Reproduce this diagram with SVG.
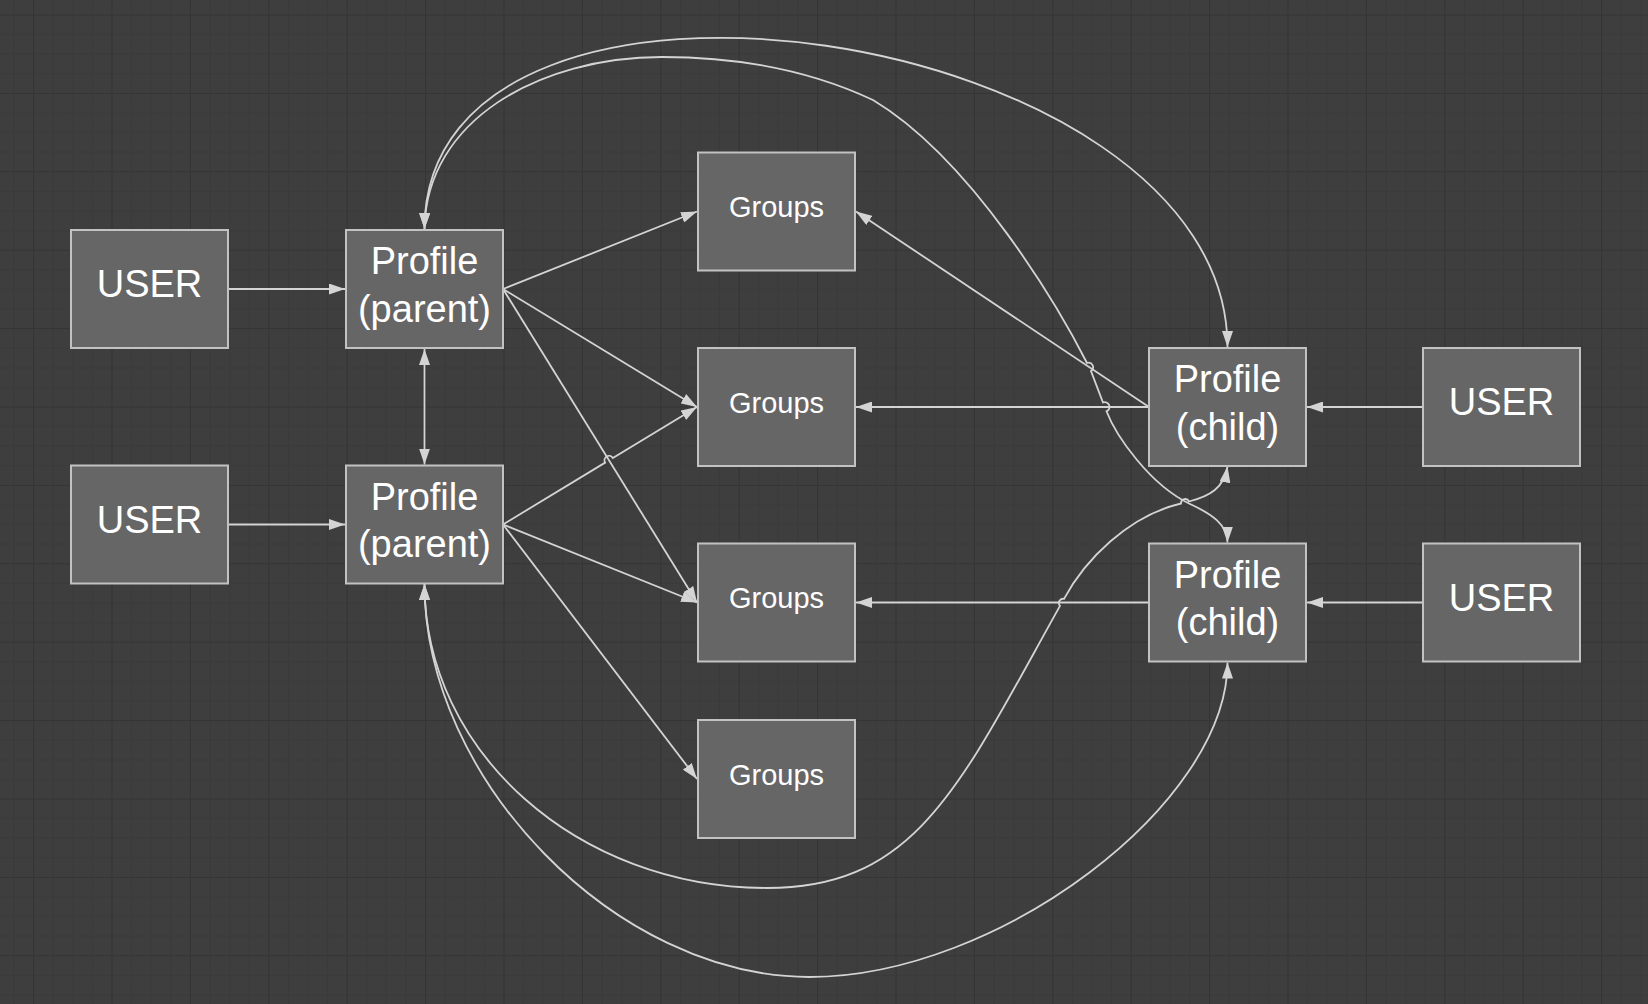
<svg xmlns="http://www.w3.org/2000/svg" width="1648" height="1004" viewBox="0 0 1648 1004">
  <defs>
    <pattern id="grid" x="33.1" y="14.5" width="78.4" height="78.4" patternUnits="userSpaceOnUse">
      <rect width="78.4" height="78.4" fill="#3e3e3e"/>
      <path d="M20.1,0V78.4M39.7,0V78.4M59.3,0V78.4M0,20.1H78.4M0,39.7H78.4M0,59.3H78.4" stroke="#393939" stroke-width="1" fill="none"/>
      <path d="M0.5,0V78.4M0,0.5H78.4" stroke="#343434" stroke-width="1" fill="none"/>
    </pattern>
    <marker id="arr" viewBox="0 0 16 11" refX="16" refY="5.5" markerWidth="16" markerHeight="11" markerUnits="userSpaceOnUse" orient="auto-start-reverse">
      <path d="M0,0 L16,5.5 L0,11 z" fill="#d4d4d4"/>
    </marker>
  </defs>
  <style>
    .node rect { fill: #666666; stroke: #c2c2c2; stroke-width: 2; }
    .lbl { font-family: "Liberation Sans", Arial, sans-serif; fill: #ffffff; text-anchor: middle; }
    .big { font-size: 38px; }
    .small { font-size: 29px; }
    #connectors path { fill: none; stroke: #d4d4d4; stroke-width: 1.8; }
    .e { marker-end: url(#arr); }
    .b { marker-start: url(#arr); marker-end: url(#arr); }
  </style>

  <rect x="0" y="0" width="1648" height="1004" fill="url(#grid)"/>

  <g id="connectors">
    <path class="e" d="M228,289 H345"/>
    <path class="e" d="M228,524.5 H345"/>
    <path class="b" d="M424.5,349 V464.5"/>
    <path class="e" d="M503,289 L697,211.5"/>
    <path class="e" d="M503,289 L697,407"/>
    <path class="e" d="M503,289 L697,602.5"/>
    <path class="e" d="M503,524.5 L605.15,462.63 A4.5,4.5 0 0,1 612.85,457.97 L697,407"/>
    <path class="e" d="M503,524.5 L697,602.5"/>
    <path class="e" d="M503,524.5 L697,779"/>
    <path class="e" d="M1149,407 L856,211.5"/>
    <path class="e" d="M1149,407 H856"/>
    <path class="e" d="M1149,602.5 H856"/>
    <path class="e" d="M1423,407 H1307"/>
    <path class="e" d="M1423,602.5 H1307"/>
    <path class="b" d="M424.5,229 C424.5,-94 1227.5,24 1227.5,347"/>
    <path class="b" d="M424.5,229 C426,120 540,57 662,57 C750,57 820,75 873,100 C973,160 1060,310 1087,363 A4.5,4.5 0 0,1 1091,371 L1103,402.5 A4.7,4.7 0 0,1 1106.5,411.3 C1116,436 1150,485 1190,504 C1212,514 1227.5,525 1227.5,542.5"/>
    <path class="b" d="M424.5,584 C424.5,752 578,888 767,888 C917,888 960,785 1060,605.9 A4.2,4.2 0 0,1 1064,598.9 C1085,560 1128,516 1181,503.5 A4.2,4.2 0 0,1 1189,501.5 C1210,496 1224,488 1227.5,466.5"/>
    <path class="b" d="M424.5,584 C424.5,780 616.5,977 809.5,977 C998,977 1227.5,804 1227.5,662.5"/>
  </g>

  <g id="user1" class="node">
    <rect x="71" y="230" width="157" height="118"/>
    <text class="lbl big" x="149.5" y="297">USER</text>
  </g>
  <g id="profile-parent-1" class="node">
    <rect x="346" y="230" width="157" height="118"/>
    <text class="lbl big" x="424.5" y="274">Profile</text>
    <text class="lbl big" x="424.5" y="321.5">(parent)</text>
  </g>
  <g id="user2" class="node">
    <rect x="71" y="465.5" width="157" height="118"/>
    <text class="lbl big" x="149.5" y="532.5">USER</text>
  </g>
  <g id="profile-parent-2" class="node">
    <rect x="346" y="465.5" width="157" height="118"/>
    <text class="lbl big" x="424.5" y="509.5">Profile</text>
    <text class="lbl big" x="424.5" y="557">(parent)</text>
  </g>
  <g id="groups1" class="node">
    <rect x="698" y="152.5" width="157" height="118"/>
    <text class="lbl small" x="776.5" y="217">Groups</text>
  </g>
  <g id="groups2" class="node">
    <rect x="698" y="348" width="157" height="118"/>
    <text class="lbl small" x="776.5" y="412.5">Groups</text>
  </g>
  <g id="groups3" class="node">
    <rect x="698" y="543.5" width="157" height="118"/>
    <text class="lbl small" x="776.5" y="608">Groups</text>
  </g>
  <g id="groups4" class="node">
    <rect x="698" y="720" width="157" height="118"/>
    <text class="lbl small" x="776.5" y="784.5">Groups</text>
  </g>
  <g id="profile-child-1" class="node">
    <rect x="1149" y="348" width="157" height="118"/>
    <text class="lbl big" x="1227.5" y="392">Profile</text>
    <text class="lbl big" x="1227.5" y="439.5">(child)</text>
  </g>
  <g id="profile-child-2" class="node">
    <rect x="1149" y="543.5" width="157" height="118"/>
    <text class="lbl big" x="1227.5" y="587.5">Profile</text>
    <text class="lbl big" x="1227.5" y="635">(child)</text>
  </g>
  <g id="user3" class="node">
    <rect x="1423" y="348" width="157" height="118"/>
    <text class="lbl big" x="1501.5" y="415">USER</text>
  </g>
  <g id="user4" class="node">
    <rect x="1423" y="543.5" width="157" height="118"/>
    <text class="lbl big" x="1501.5" y="610.5">USER</text>
  </g>
</svg>
